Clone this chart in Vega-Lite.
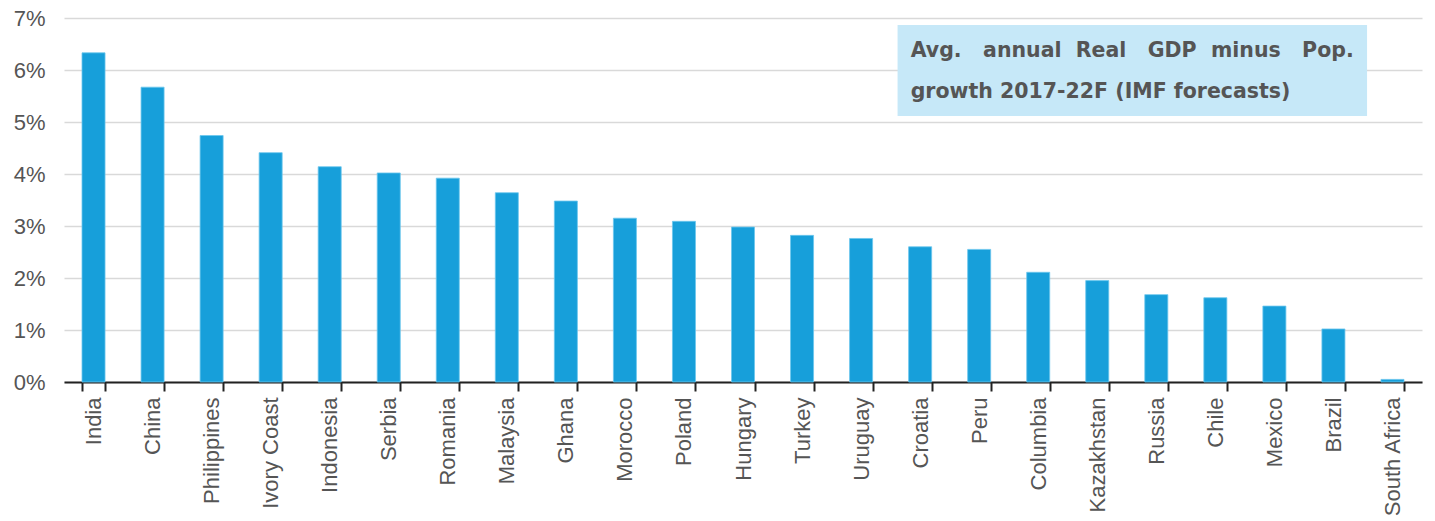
{
  "$schema": "https://vega.github.io/schema/vega-lite/v6.json",
  "width": 1358,
  "height": 364,
  "autosize": "none",
  "padding": {"left": 64, "top": 18, "right": 13, "bottom": 139},
  "background": "white",
  "config": {"view": {"stroke": null}, "font": "Liberation Sans"},
  "datasets": {
    "gdp": [
      {"country": "India", "growth": 6.33},
      {"country": "China", "growth": 5.67},
      {"country": "Philippines", "growth": 4.74},
      {"country": "Ivory Coast", "growth": 4.41},
      {"country": "Indonesia", "growth": 4.14},
      {"country": "Serbia", "growth": 4.02},
      {"country": "Romania", "growth": 3.92},
      {"country": "Malaysia", "growth": 3.64},
      {"country": "Ghana", "growth": 3.48},
      {"country": "Morocco", "growth": 3.15},
      {"country": "Poland", "growth": 3.09},
      {"country": "Hungary", "growth": 2.98},
      {"country": "Turkey", "growth": 2.82},
      {"country": "Uruguay", "growth": 2.76},
      {"country": "Croatia", "growth": 2.6},
      {"country": "Peru", "growth": 2.55},
      {"country": "Columbia", "growth": 2.11},
      {"country": "Kazakhstan", "growth": 1.95},
      {"country": "Russia", "growth": 1.68},
      {"country": "Chile", "growth": 1.62},
      {"country": "Mexico", "growth": 1.46},
      {"country": "Brazil", "growth": 1.02},
      {"country": "South Africa", "growth": 0.05}
    ],
    "box": [
      {"from": "Croatia", "to": "Brazil", "top": 6.865, "bottom": 5.115}
    ],
    "note": [
      {"line": "Avg.\u00a0\u00a0 annual\u00a0 Real\u00a0\u00a0 GDP\u00a0 minus\u00a0\u00a0 Pop.", "pos": 6.25, "at": "Croatia"},
      {"line": "growth 2017-22F (IMF forecasts)", "pos": 5.46, "at": "Croatia"}
    ]
  },
  "layer": [
    {
      "data": {"name": "gdp"},
      "mark": {"type": "bar", "color": "#179fda", "stroke": "#6cc6ee", "strokeWidth": 0.8},
      "encoding": {
        "x": {
          "field": "country",
          "type": "nominal",
          "sort": null,
          "scale": {
            "domain": ["India", "China", "Philippines", "Ivory Coast", "Indonesia", "Serbia", "Romania", "Malaysia", "Ghana", "Morocco", "Poland", "Hungary", "Turkey", "Uruguay", "Croatia", "Peru", "Columbia", "Kazakhstan", "Russia", "Chile", "Mexico", "Brazil", "South Africa"],
            "paddingInner": 0.61,
            "paddingOuter": 0.305
          },
          "axis": {
            "title": null,
            "labelAngle": -90,
            "labelAlign": "right",
            "labelBaseline": "middle",
            "labelFontSize": 22,
            "labelColor": "#555555",
            "labelPadding": 6,
            "domainColor": "#222222",
            "domainWidth": 2,
            "tickColor": "#222222",
            "tickWidth": 2,
            "tickSize": 9,
            "tickBand": "extent",
            "grid": false
          }
        },
        "y": {
          "field": "growth",
          "type": "quantitative",
          "scale": {"domain": [0, 7], "nice": false},
          "axis": {
            "title": null,
            "values": [0, 1, 2, 3, 4, 5, 6, 7],
            "labelExpr": "datum.value + '%'",
            "labelFontSize": 22,
            "labelColor": "#555555",
            "labelPadding": 19,
            "ticks": false,
            "domain": false,
            "grid": true,
            "gridColor": "#d9d9d9",
            "gridWidth": 1.5
          }
        }
      }
    },
    {
      "data": {"name": "box"},
      "mark": {"type": "rect", "color": "#c6e8f8"},
      "encoding": {
        "x": {"field": "from", "type": "nominal", "bandPosition": -0.48},
        "x2": {"field": "to", "bandPosition": 1.96},
        "y": {"field": "top", "type": "quantitative"},
        "y2": {"field": "bottom"}
      }
    },
    {
      "data": {"name": "note"},
      "mark": {"type": "text", "align": "left", "baseline": "alphabetic", "fontSize": 20.5, "fontWeight": "bold", "color": "#555555", "font": "DejaVu Sans"},
      "encoding": {
        "x": {"field": "at", "type": "nominal", "bandPosition": 0.09},
        "y": {"field": "pos", "type": "quantitative"},
        "text": {"field": "line"}
      }
    }
  ]
}
